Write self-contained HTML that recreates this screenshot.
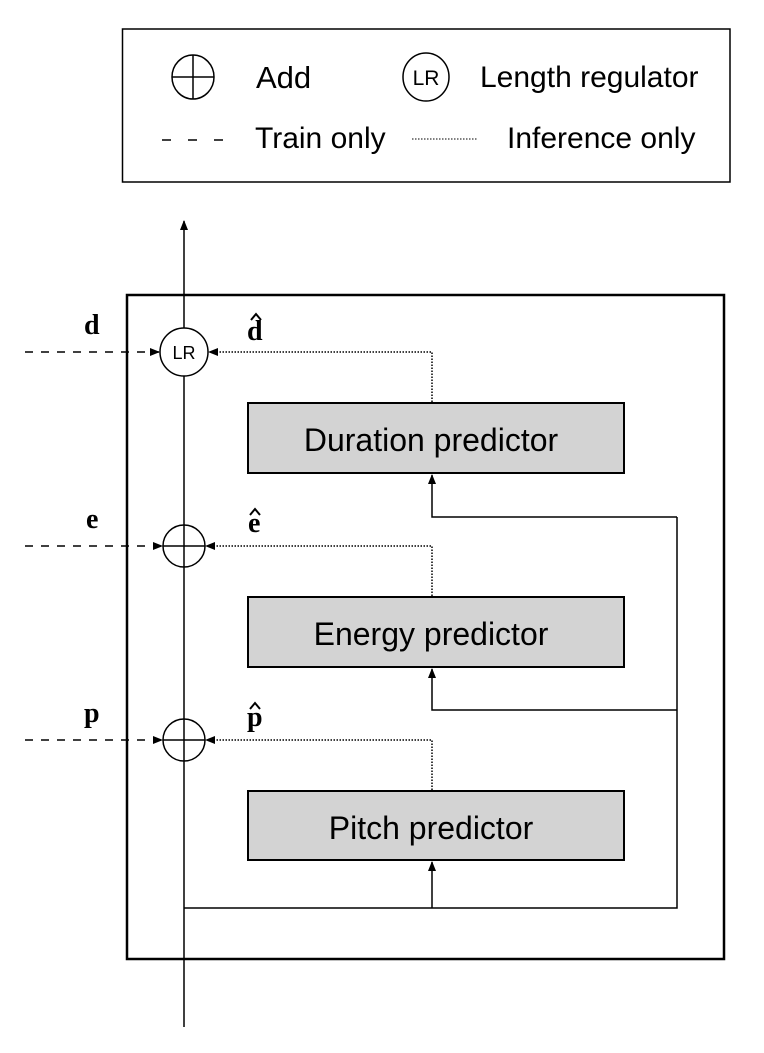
<!DOCTYPE html>
<html><head><meta charset="utf-8"><style>body{margin:0;background:#fff}svg{display:block}</style></head>
<body>
<svg width="764" height="1053" viewBox="0 0 764 1053" xmlns="http://www.w3.org/2000/svg">
<defs>
<marker id="a" markerWidth="10" markerHeight="8" refX="9" refY="4" orient="auto" markerUnits="userSpaceOnUse"><path d="M0,0 L10,4 L0,8 z" fill="#000"/></marker>
</defs>
<g font-family="Liberation Sans, sans-serif" fill="#000">
<!-- legend -->
<rect x="122.5" y="29" width="607.5" height="153" fill="none" stroke="#000" stroke-width="1.5"/>
<ellipse cx="193" cy="77" rx="21" ry="22" fill="none" stroke="#000" stroke-width="1.5"/>
<line x1="172" y1="77" x2="214" y2="77" stroke="#000" stroke-width="1.5"/>
<line x1="193" y1="55" x2="193" y2="99" stroke="#000" stroke-width="1.5"/>
<text x="256" y="88" font-size="31">Add</text>
<ellipse cx="426" cy="77" rx="23" ry="24" fill="none" stroke="#000" stroke-width="1.5"/>
<text x="426" y="85" font-size="21" text-anchor="middle">LR</text>
<text x="480" y="87" font-size="30">Length regulator</text>
<line x1="162" y1="140" x2="224" y2="140" stroke="#000" stroke-width="1.5" stroke-dasharray="9,17"/>
<text x="255" y="148" font-size="30">Train only</text>
<line x1="412" y1="139" x2="477" y2="139" stroke="#000" stroke-width="1" stroke-dasharray="1.5,1.5"/>
<text x="507" y="148" font-size="30">Inference only</text>
<!-- main box -->
<rect x="127" y="295" width="597" height="664" fill="none" stroke="#000" stroke-width="2.5"/>
<!-- adds -->
<circle cx="184" cy="546" r="21" fill="#fff" stroke="#000" stroke-width="1.5"/>
<line x1="163" y1="546" x2="205" y2="546" stroke="#000" stroke-width="1.5"/>
<circle cx="184" cy="740" r="21" fill="#fff" stroke="#000" stroke-width="1.5"/>
<line x1="163" y1="740" x2="205" y2="740" stroke="#000" stroke-width="1.5"/>
<line x1="184" y1="375" x2="184" y2="1027" stroke="#000" stroke-width="1.5"/>
<line x1="184" y1="329" x2="184" y2="221" stroke="#000" stroke-width="1.5" marker-end="url(#a)"/>
<circle cx="184" cy="352" r="24" fill="#fff" stroke="#000" stroke-width="1.5"/>
<text x="184" y="359" font-size="18" text-anchor="middle">LR</text>
<!-- dashed inputs -->
<line x1="25" y1="352" x2="159" y2="352" stroke="#000" stroke-width="1.5" stroke-dasharray="8,8" marker-end="url(#a)"/>
<line x1="25" y1="546" x2="162" y2="546" stroke="#000" stroke-width="1.5" stroke-dasharray="8,8" marker-end="url(#a)"/>
<line x1="25" y1="740" x2="162" y2="740" stroke="#000" stroke-width="1.5" stroke-dasharray="8,8" marker-end="url(#a)"/>
<!-- dotted -->
<polyline points="432,402 432,352 209,352" fill="none" stroke="#000" stroke-width="1.5" stroke-dasharray="1.5,1.5" marker-end="url(#a)"/>
<polyline points="432,596 432,546 206,546" fill="none" stroke="#000" stroke-width="1.5" stroke-dasharray="1.5,1.5" marker-end="url(#a)"/>
<polyline points="432,790 432,740 206,740" fill="none" stroke="#000" stroke-width="1.5" stroke-dasharray="1.5,1.5" marker-end="url(#a)"/>
<!-- boxes -->
<rect x="248" y="403" width="376" height="70" fill="#d3d3d3" stroke="#000" stroke-width="2"/>
<text x="431" y="451" font-size="32" text-anchor="middle">Duration predictor</text>
<rect x="248" y="597" width="376" height="70" fill="#d3d3d3" stroke="#000" stroke-width="2"/>
<text x="431" y="645" font-size="32" text-anchor="middle">Energy predictor</text>
<rect x="248" y="791" width="376" height="69" fill="#d3d3d3" stroke="#000" stroke-width="2"/>
<text x="431" y="839" font-size="32" text-anchor="middle">Pitch predictor</text>
<!-- connections -->
<polyline points="184,908 677,908 677,517" fill="none" stroke="#000" stroke-width="1.5"/>
<line x1="432" y1="908" x2="432" y2="862" stroke="#000" stroke-width="1.5" marker-end="url(#a)"/>
<polyline points="677,710 432,710 432,669" fill="none" stroke="#000" stroke-width="1.5" marker-end="url(#a)"/>
<polyline points="677,517 432,517 432,475" fill="none" stroke="#000" stroke-width="1.5" marker-end="url(#a)"/>
<!-- labels -->
<g font-family="Liberation Serif, serif" font-weight="bold" font-size="28">
<text x="84" y="334">d</text>
<text x="247" y="340">d</text>
<text x="86" y="528">e</text>
<text x="248" y="532">e</text>
<text x="84" y="722">p</text>
<text x="247" y="726">p</text>
</g>
<g fill="none" stroke="#000" stroke-width="2">
<polyline points="251,320 256,314 261,320"/>
<polyline points="250,515 255,509 260,515"/>
<polyline points="250,709 255,703 260,709"/>
</g>
</g>
</svg>
</body></html>
